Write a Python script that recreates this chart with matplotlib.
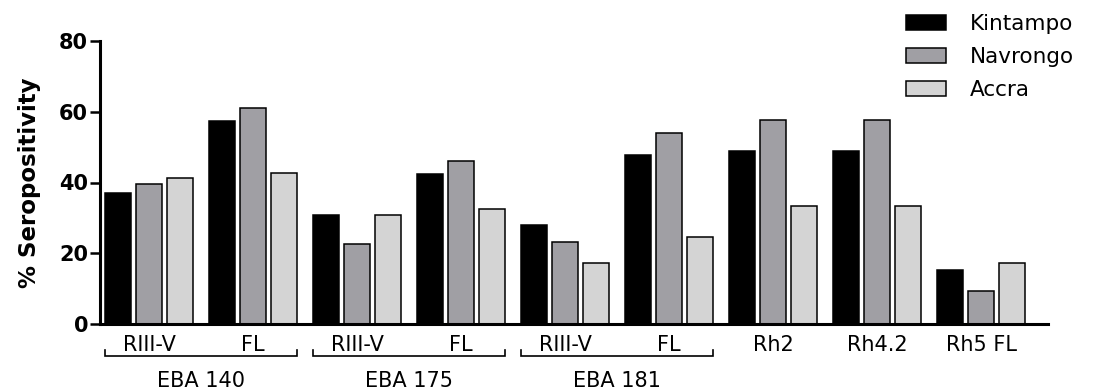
import matplotlib
matplotlib.use("Agg")
import matplotlib.pyplot as plt
import numpy as np

# ---- data ----
categories = ["RIII-V", "FL", "RIII-V", "FL", "RIII-V", "FL", "Rh2", "Rh4.2", "Rh5 FL"]
antigen_groups = ["EBA 140", "EBA 175", "EBA 181"]
series_names = ["Kintampo", "Navrongo", "Accra"]
kintampo = [36.9, 57.3, 30.8, 42.3, 27.9, 47.7, 48.9, 48.9, 15.4]
navrongo = [39.5, 61.0, 22.5, 46.1, 23.3, 54.0, 57.8, 57.8, 9.3]
accra = [41.2, 42.8, 30.8, 32.4, 17.3, 24.6, 33.3, 33.3, 17.2]
yticks = [0, 20, 40, 60, 80]

colors = ["#000000", "#a09fa4", "#d4d4d4"]

fig = plt.figure(figsize=(10.96, 3.91), dpi=100)
ax = fig.add_axes([100 / 1096, 1 - 324 / 391, (1048 - 100) / 1096, (324 - 41) / 391])

x = np.arange(len(categories))
step = 0.30
width = 0.25
for k, (vals, name, c) in enumerate(zip([kintampo, navrongo, accra], series_names, colors)):
    ax.bar(x + (k - 1) * step, vals, width, color=c, edgecolor="black",
           linewidth=1.1, label=name, zorder=2)

ax.set_ylim(0, 80)
ax.set_xlim(-0.471, 8.644)
ax.set_yticks(yticks)
ax.set_yticklabels([str(t) for t in yticks], fontsize=15, fontweight="bold")
ax.tick_params(axis="y", direction="out", length=7, width=1.8, pad=1.5)
ax.set_ylabel("% Seropositivity", fontsize=16.5, fontweight="bold", labelpad=13)

ax.set_xticks(x)
ax.set_xticklabels(categories, fontsize=15)
ax.tick_params(axis="x", length=0, pad=8)

for s in ["top", "right"]:
    ax.spines[s].set_visible(False)
for s in ["left", "bottom"]:
    ax.spines[s].set_linewidth(2.2)
    ax.spines[s].set_zorder(3)

# brackets for EBA groups
trans = ax.get_xaxis_transform()
axh = 283.0
yb = -32 / axh
yt = -26 / axh
for i, g in enumerate(antigen_groups):
    x0 = 2 * i - 0.425
    x1 = 2 * i + 1.425
    ax.plot([x0, x0, x1, x1], [yt, yb, yb, yt], color="black", lw=1.2,
            transform=trans, clip_on=False, solid_joinstyle="miter")
    ax.text(2 * i + 0.5, -57 / axh, g, transform=trans, ha="center", va="center",
            fontsize=15)

fig.legend(loc="upper left", bbox_to_anchor=(906 / 1096, 1 - 14 / 391),
           frameon=False, fontsize=15.5, handlelength=1.85, handleheight=0.7,
           labelspacing=0.6, handletextpad=1.1, borderpad=0, borderaxespad=0)

fig.savefig("out.png", dpi=100)
